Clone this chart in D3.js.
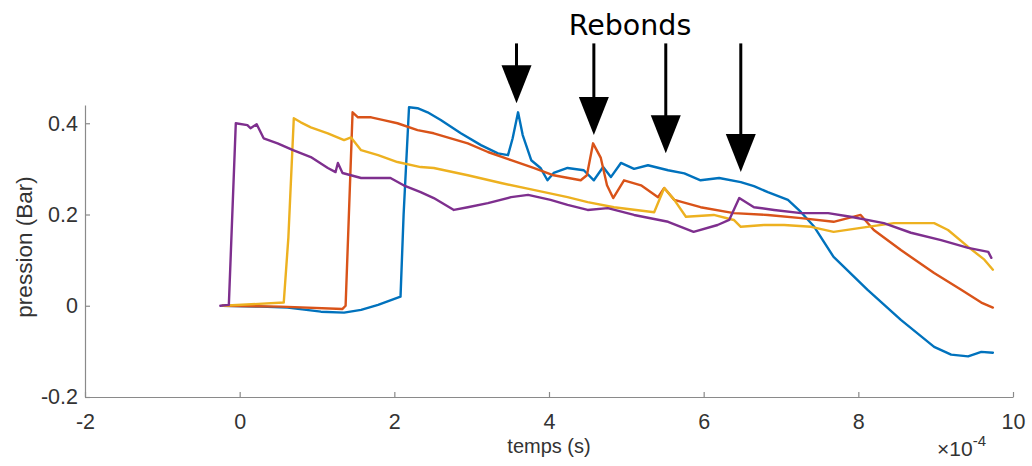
<!DOCTYPE html>
<html>
<head>
<meta charset="utf-8">
<script src="https://cdn.jsdelivr.net/npm/d3@7"></script>
<style>
  html, body { margin: 0; padding: 0; background: #fff; }
  svg { display: block; }
</style>
</head>
<body>
<svg id="chart" width="1032" height="466"></svg>
<script>
// ---- Data (time in units of 1e-4 s, pressure in Bar) ----
const xTicks = [-2, 0, 2, 4, 6, 8, 10];
const yTicks = [-0.2, 0, 0.2, 0.4];
const xTickLabels = ["-2", "0", "2", "4", "6", "8", "10"];
const yTickLabels = ["-0.2", "0", "0.2", "0.4"];
const xLabel = "temps (s)";
const yLabel = "pression (Bar)";
const title = "Rebonds";

const blueT = [-0.22, 0.27, 0.62, 1.05, 1.35, 1.57, 1.79, 2.08, 2.12, 2.19, 2.30, 2.43, 2.60, 2.86, 3.12, 3.34, 3.47, 3.53, 3.60, 3.66, 3.77, 3.89, 3.98, 4.06, 4.24, 4.45, 4.58, 4.70, 4.80, 4.93, 5.10, 5.28, 5.54, 5.75, 5.96, 6.20, 6.48, 6.65, 6.83, 7.09, 7.26, 7.43, 7.68, 8.12, 8.55, 8.98, 9.20, 9.42, 9.59, 9.74];
const blueV = [0.000, -0.002, -0.004, -0.013, -0.015, -0.009, 0.002, 0.020, 0.200, 0.435, 0.433, 0.424, 0.407, 0.378, 0.352, 0.334, 0.330, 0.367, 0.424, 0.374, 0.319, 0.302, 0.275, 0.291, 0.302, 0.297, 0.275, 0.304, 0.282, 0.313, 0.300, 0.308, 0.297, 0.290, 0.275, 0.280, 0.271, 0.262, 0.249, 0.232, 0.205, 0.173, 0.107, 0.035, -0.031, -0.090, -0.107, -0.111, -0.101, -0.103];

const orangeT = [-0.22, 0.53, 1.33, 1.37, 1.46, 1.53, 1.70, 1.86, 2.04, 2.30, 2.51, 2.95, 3.21, 3.51, 3.80, 4.06, 4.41, 4.49, 4.57, 4.67, 4.75, 4.83, 4.97, 5.19, 5.41, 5.49, 5.62, 5.96, 6.39, 6.83, 7.26, 7.68, 8.03, 8.20, 8.55, 8.98, 9.33, 9.59, 9.74];
const orangeV = [0.000, -0.002, -0.007, 0.000, 0.424, 0.413, 0.413, 0.407, 0.400, 0.385, 0.378, 0.356, 0.337, 0.319, 0.302, 0.286, 0.275, 0.286, 0.356, 0.324, 0.264, 0.236, 0.275, 0.264, 0.238, 0.258, 0.232, 0.216, 0.203, 0.199, 0.192, 0.184, 0.199, 0.166, 0.122, 0.072, 0.035, 0.007, -0.004];

const yellowT = [-0.22, 0.57, 0.63, 0.70, 0.79, 0.92, 1.14, 1.35, 1.44, 1.57, 1.79, 2.04, 2.34, 2.51, 2.95, 3.38, 3.80, 4.24, 4.50, 4.84, 5.36, 5.49, 5.62, 5.77, 6.13, 6.39, 6.48, 6.78, 7.04, 7.39, 7.68, 8.12, 8.46, 8.98, 9.16, 9.42, 9.63, 9.74];
const yellowV = [0.000, 0.007, 0.150, 0.411, 0.402, 0.391, 0.378, 0.363, 0.369, 0.341, 0.330, 0.315, 0.304, 0.302, 0.286, 0.269, 0.254, 0.238, 0.227, 0.216, 0.205, 0.258, 0.232, 0.195, 0.199, 0.188, 0.173, 0.177, 0.177, 0.173, 0.162, 0.173, 0.181, 0.181, 0.166, 0.129, 0.101, 0.079];

const purpleT = [-0.25, -0.14, -0.05, 0.10, 0.14, 0.22, 0.31, 0.49, 0.69, 0.92, 1.14, 1.24, 1.27, 1.33, 1.57, 1.95, 2.12, 2.34, 2.51, 2.77, 2.95, 3.21, 3.51, 3.73, 4.02, 4.24, 4.50, 4.76, 5.10, 5.54, 5.87, 6.18, 6.33, 6.46, 6.65, 6.91, 7.26, 7.61, 7.90, 8.33, 8.68, 9.07, 9.42, 9.68, 9.72];
const purpleV = [0.000, 0.002, 0.400, 0.396, 0.389, 0.398, 0.367, 0.356, 0.341, 0.326, 0.302, 0.293, 0.313, 0.291, 0.280, 0.280, 0.264, 0.249, 0.236, 0.210, 0.216, 0.225, 0.238, 0.243, 0.232, 0.221, 0.210, 0.214, 0.199, 0.184, 0.162, 0.177, 0.188, 0.236, 0.216, 0.210, 0.203, 0.203, 0.195, 0.181, 0.160, 0.144, 0.127, 0.118, 0.105];

const seriesNames = ["bleu", "orange", "jaune", "violet"];
const seriesColors = ["#0072BD", "#D95319", "#EDB120", "#7E2F8E"];

// Arrow annotations: x position (1e-4 s) and tip pressure (Bar)
const arrowT = [3.58, 4.58, 5.51, 6.48];
const arrowTipV = [0.444, 0.374, 0.334, 0.293];
const arrowTopV = 0.575;

// ---- Drawing ----
const svg = d3.select("#chart");
const font = "'Liberation Sans', Arial, Helvetica, sans-serif";

const x = d3.scaleLinear().domain([-2, 10]).range([85, 1013]);
const y = d3.scaleLinear().domain([-0.2, 0.44]).range([397, 105]);

const allSeries = [
  {t: blueT, v: blueV},
  {t: orangeT, v: orangeV},
  {t: yellowT, v: yellowV},
  {t: purpleT, v: purpleV}
];

// axes
const xAxis = d3.axisBottom(x).tickValues(xTicks).tickSizeInner(-5).tickSizeOuter(0).tickPadding(17)
  .tickFormat((d, i) => xTickLabels[i]);
const yAxis = d3.axisLeft(y).tickValues(yTicks).tickSizeInner(-5).tickSizeOuter(0).tickPadding(7)
  .tickFormat((d, i) => yTickLabels[i]);

const gx = svg.append("g").attr("transform", `translate(0,${y(-0.2)})`).call(xAxis);
const gy = svg.append("g").attr("transform", `translate(${x(-2)},0)`).call(yAxis);

[gx, gy].forEach(g => {
  g.select(".domain").attr("stroke", "#8a8a8a").attr("stroke-width", 1.2);
  g.selectAll(".tick line").attr("stroke", "#8a8a8a").attr("stroke-width", 1.2);
  g.selectAll(".tick text").attr("fill", "#333").style("font-family", font).style("font-size", "21.5px");
});

// axis titles
svg.append("text")
  .attr("x", (x(-2) + x(10)) / 2).attr("y", 453)
  .attr("text-anchor", "middle")
  .style("font-family", font).style("font-size", "20px").attr("fill", "#333")
  .text(xLabel);

svg.append("text")
  .attr("transform", `translate(32,${(y(-0.2) + y(0.44)) / 2 - 4}) rotate(-90)`)
  .attr("text-anchor", "middle")
  .style("font-family", font).style("font-size", "22.5px").attr("fill", "#333")
  .text(yLabel);

// exponent
const expo = svg.append("text")
  .attr("x", 986).attr("y", 456)
  .attr("text-anchor", "end")
  .style("font-family", font).style("font-size", "21px").attr("fill", "#333");
expo.append("tspan").text("\u00d710");
expo.append("tspan").attr("dy", -10).style("font-size", "15px").text("-4");

// lines
const line = d3.line().x(d => x(d[0])).y(d => y(d[1]));
allSeries.forEach((s, i) => {
  const pts = s.t.map((t, k) => [t, s.v[k]]);
  svg.append("path")
    .datum(pts)
    .attr("fill", "none")
    .attr("stroke", seriesColors[i])
    .attr("stroke-width", 2.4)
    .attr("stroke-linejoin", "round")
    .attr("stroke-linecap", "round")
    .attr("d", line);
});

// title
svg.append("text")
  .attr("x", 630).attr("y", 35)
  .attr("text-anchor", "middle")
  .style("font-family", "'DejaVu Sans', sans-serif").style("font-size", "28.5px").attr("fill", "#000")
  .text(title);

// arrows
arrowT.forEach((t, i) => {
  const ax = x(t);
  const tipY = y(arrowTipV[i]);
  const topY = y(arrowTopV);
  const headH = 38, headW = 15;
  svg.append("line")
    .attr("x1", ax).attr("x2", ax)
    .attr("y1", topY).attr("y2", tipY - headH + 2)
    .attr("stroke", "#000").attr("stroke-width", 3);
  svg.append("path")
    .attr("d", `M${ax - headW},${tipY - headH} L${ax + headW},${tipY - headH} L${ax},${tipY} Z`)
    .attr("fill", "#000");
});
</script>
</body>
</html>
